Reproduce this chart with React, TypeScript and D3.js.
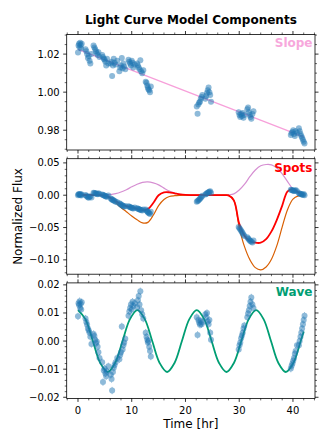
import React from 'react';
import * as d3 from 'd3';

// ---------- data ----------
const obsTime = [
  0.00, 0.10, 0.20, 0.30, 0.40, 0.50, 0.60, 0.70,
  1.40, 1.55, 1.70, 1.85, 2.00, 2.15, 2.30, 2.50,
  2.90, 3.05, 3.20, 3.35, 3.50, 3.65, 3.80, 4.00,
  4.50, 4.65, 4.80, 4.95, 5.10, 5.25, 5.40, 5.65,
  6.10, 6.25, 6.35, 6.50, 6.65, 6.80, 7.00, 7.30,
  7.70, 7.85, 8.00, 8.15, 8.30, 8.45, 8.60, 8.80,
  9.40, 9.55, 9.70, 9.85, 10.00, 10.15, 10.30, 10.55,
  11.00, 11.15, 11.30, 11.45, 11.60, 11.75, 11.95, 12.15,
  12.60, 12.75, 12.90, 13.00, 13.10, 13.25, 13.40, 13.55,
  22.10, 22.25, 22.40, 22.55, 22.70, 22.85, 23.00, 23.15,
  23.70, 23.85, 24.00, 24.15, 24.30, 24.45, 24.60, 24.75,
  29.90, 30.05, 30.20, 30.35, 30.50, 30.65, 30.80, 30.95,
  31.50, 31.65, 31.80, 31.95, 32.10, 32.25, 32.45, 32.65,
  39.60, 39.75, 39.90, 40.05, 40.20, 40.35, 40.50, 40.75,
  41.10, 41.25, 41.40, 41.55, 41.70, 41.85, 42.00, 42.15,
];

const slopeObs = [
  1.0208, 1.0245, 1.0255, 1.0235, 1.0260, 1.0248, 1.0230, 1.0255,
  1.0225, 1.0215, 1.0200, 1.0180, 1.0190, 1.0165, 1.0150, 1.0200,
  1.0245, 1.0235, 1.0225, 1.0215, 1.0205, 1.0195, 1.0210, 1.0185,
  1.0195, 1.0185, 1.0175, 1.0170, 1.0160, 1.0140, 1.0175, 1.0150,
  1.0150, 1.0160, 1.0085, 1.0140, 1.0175, 1.0155, 1.0145, 1.0165,
  1.0110, 1.0130, 1.0140, 1.0180, 1.0125, 1.0150, 1.0135, 1.0120,
  1.0170, 1.0160, 1.0150, 1.0140, 1.0165, 1.0155, 1.0130, 1.0145,
  1.0150, 1.0140, 1.0130, 1.0120, 1.0168, 1.0110, 1.0100, 1.0115,
  1.0055, 1.0050, 1.0035, 1.0025, 1.0015, 1.0010, 1.0000, 1.0030,
  0.9925, 0.9887, 0.9935, 0.9945, 0.9950, 0.9965, 0.9975, 0.9985,
  0.9965, 0.9980, 0.9995, 1.0010, 1.0025, 1.0000, 0.9985, 0.9950,
  0.9895, 0.9880, 0.9870, 0.9885, 0.9875, 0.9890, 0.9865, 0.9880,
  0.9910, 0.9920, 0.9895, 0.9880, 0.9870, 0.9860, 0.9885, 0.9900,
  0.9775, 0.9785, 0.9790, 0.9800, 0.9780, 0.9770, 0.9795, 0.9785,
  0.9810, 0.9795, 0.9780, 0.9770, 0.9760, 0.9750, 0.9740, 0.9730,
];

const spotsObs = [
  0.0000, 0.0015, 0.0010, 0.0020, 0.0005, 0.0015, -0.0005, 0.0010,
  0.0005, -0.0010, -0.0020, -0.0030, -0.0040, -0.0025, -0.0015, -0.0035,
  0.0040, 0.0035, 0.0030, 0.0025, 0.0020, 0.0015, 0.0030, 0.0020,
  0.0010, 0.0005, 0.0000, -0.0010, -0.0015, -0.0020, -0.0025, -0.0005,
  -0.0050, -0.0060, -0.0070, -0.0075, -0.0080, -0.0090, -0.0100, -0.0110,
  -0.0125, -0.0135, -0.0145, -0.0155, -0.0160, -0.0170, -0.0180, -0.0165,
  -0.0170, -0.0180, -0.0185, -0.0190, -0.0195, -0.0200, -0.0205, -0.0190,
  -0.0200, -0.0210, -0.0215, -0.0220, -0.0225, -0.0230, -0.0235, -0.0220,
  -0.0220, -0.0235, -0.0250, -0.0260, -0.0270, -0.0280, -0.0290, -0.0255,
  -0.0100, -0.0090, -0.0080, -0.0065, -0.0055, -0.0040, -0.0025, -0.0010,
  0.0010, 0.0020, 0.0030, 0.0040, 0.0045, 0.0055, 0.0060, 0.0035,
  -0.0490, -0.0510, -0.0530, -0.0550, -0.0570, -0.0590, -0.0610, -0.0630,
  -0.0650, -0.0670, -0.0680, -0.0700, -0.0710, -0.0720, -0.0730, -0.0700,
  0.0085, 0.0080, 0.0075, 0.0070, 0.0065, 0.0070, 0.0080, 0.0060,
  0.0030, 0.0025, 0.0020, 0.0015, 0.0010, 0.0005, 0.0020, 0.0000,
];

const waveObs = [
  0.0088, 0.0135, 0.0128, 0.0142, 0.0118, 0.0132, 0.0112, 0.0138,
  0.0080, 0.0068, 0.0058, 0.0045, 0.0038, 0.0030, 0.0015, -0.0010,
  0.0025, 0.0018, 0.0005, -0.0008, -0.0002, -0.0020, -0.0040, -0.0060,
  -0.0075, -0.0146, -0.0105, -0.0098, -0.0115, -0.0125, -0.0108, -0.0090,
  -0.0120, -0.0135, -0.0176, -0.0110, -0.0095, -0.0085, -0.0075, -0.0060,
  -0.0065, -0.0050, -0.0040, 0.0052, -0.0030, -0.0015, -0.0005, 0.0008,
  0.0090, 0.0105, 0.0118, 0.0130, 0.0112, 0.0140, 0.0125, 0.0135,
  0.0120, 0.0145, 0.0160, 0.0130, 0.0177, 0.0110, 0.0095, 0.0080,
  0.0030, 0.0015, 0.0005, -0.0005, 0.0000, -0.0020, -0.0035, -0.0055,
  0.0085, 0.0022, 0.0075, 0.0065, 0.0058, 0.0072, 0.0060, 0.0068,
  0.0095, 0.0085, 0.0100, 0.0070, 0.0060, 0.0075, 0.0030, 0.0005,
  -0.0030, -0.0015, -0.0005, 0.0010, 0.0020, 0.0030, 0.0045, 0.0055,
  0.0085, 0.0098, 0.0110, 0.0125, 0.0140, 0.0155, 0.0130, 0.0118,
  -0.0098, -0.0088, -0.0080, -0.0070, -0.0060, -0.0045, -0.0035, -0.0015,
  -0.0015, 0.0000, 0.0015, 0.0030, 0.0045, 0.0060, 0.0075, 0.0090,
];
const obsErr = 0.0013;

// slope model
const slopeT = [0, 42];
const slopeV = [1.0225, 0.9765];

// spot models (sampled every hour)
const spotT = d3.range(0, 43);
const spotPink = [
  0, 0, 0, 0, 0, 0.0003, 0.001, 0.0025, 0.005, 0.0085,
  0.013, 0.017, 0.0198, 0.0205, 0.019, 0.016, 0.011, 0.0065, 0.0035, 0.0015,
  0.0005, 0.0001, 0, 0, 0, 0, 0, 0, 0.0005, 0.002,
  0.008, 0.017, 0.029, 0.039, 0.0455, 0.0475, 0.047, 0.042, 0.033, 0.021,
  0.0095, 0.003, 0.001,
];
const spotOrange = [
  0, 0, 0, 0, 0, -0.0005, -0.004, -0.0115, -0.019, -0.0255,
  -0.032, -0.038, -0.0428, -0.042, -0.031, -0.016, -0.0065, -0.002, -0.0007, -0.0002,
  0, 0, 0, 0, 0, 0, 0, 0, -0.0003, -0.008,
  -0.050, -0.080, -0.100, -0.112, -0.1155, -0.111, -0.099, -0.078, -0.049, -0.022,
  -0.006, -0.001, 0,
];
const spotTotal = [
  0, 0, 0, 0, 0, -0.0005, -0.004, -0.009, -0.014, -0.017,
  -0.019, -0.021, -0.023, -0.0215, -0.012, 0.0, 0.0045, 0.0045, 0.0028, 0.0012,
  0.0004, 0.0001, 0, 0, 0, 0, 0, 0, -0.0002, -0.008,
  -0.044, -0.063, -0.071, -0.0735, -0.0735, -0.068, -0.056, -0.038, -0.016, 0.006,
  0.0095, 0.0045, 0.0005,
];

// wave model
const waveT = [
  0, 1.38, 2.76, 4.14, 5.53, 6.91, 8.29, 9.67, 11.05, 12.43, 13.81, 15.19, 16.58,
  17.96, 19.34, 20.72, 22.10, 23.48, 24.86, 26.24, 27.63, 29.01, 30.39, 31.77,
  33.15, 34.53, 35.91, 37.29, 38.68, 40.06, 41.44, 42,
];
const waveV = [
  0.011, 0.0078, 0, -0.0078, -0.011, -0.0078, 0, 0.0078, 0.011, 0.0078, 0, -0.0078, -0.011,
  -0.0078, 0, 0.0078, 0.011, 0.0078, 0, -0.0078, -0.011, -0.0078, 0, 0.0078,
  0.011, 0.0078, 0, -0.0078, -0.011, -0.0078, 0, 0.0034,
];

// axes
const xTicks = [0, 10, 20, 30, 40];
const slopeTicks = [0.98, 1.0, 1.02];
const spotTicks = [-0.1, -0.05, 0.0, 0.05];
const waveTicks = [-0.02, -0.01, 0.0, 0.01, 0.02];

// ---------- layout ----------
const W = 332;
const H = 443;
const ML = 66.7;
const MR = 315;
const PANEL_TOPS = [34.5, 158.7, 282.9];
const PANEL_H = 115.5;
const X_DOMAIN: [number, number] = [-2.1, 44.1];
const BLUE = '#1f77b4';
const FONT = 'DejaVu Sans';

type LineSpec = { t: number[]; v: number[]; color: string; w: number };
type PanelSpec = {
  domain: [number, number];
  majors: number[];
  minorStep: number;
  label: string;
  labelColor: string;
  obs: number[];
  lines: LineSpec[];
};

const panels: PanelSpec[] = [
  {
    domain: [0.9696, 1.0303],
    majors: slopeTicks,
    minorStep: 0.005,
    label: 'Slope',
    labelColor: '#f7a8dc',
    obs: slopeObs,
    lines: [{ t: slopeT, v: slopeV, color: '#f7a0da', w: 1.3 }],
  },
  {
    domain: [-0.1222, 0.0565],
    majors: spotTicks,
    minorStep: 0.01,
    label: 'Spots',
    labelColor: '#ff0000',
    obs: spotsObs,
    lines: [
      { t: spotT, v: spotPink, color: '#d68fd2', w: 1.2 },
      { t: spotT, v: spotOrange, color: '#d95f02', w: 1.2 },
      { t: spotT, v: spotTotal, color: '#ff0000', w: 1.8 },
    ],
  },
  {
    domain: [-0.0204, 0.0207],
    majors: waveTicks,
    minorStep: 0.002,
    label: 'Wave',
    labelColor: '#009e73',
    obs: waveObs,
    lines: [{ t: waveT, v: waveV, color: '#009e73', w: 1.8 }],
  },
];

function minorTicks(domain: [number, number], step: number, majors: number[]) {
  const out: number[] = [];
  const k0 = Math.ceil(domain[0] / step - 1e-9);
  const k1 = Math.floor(domain[1] / step + 1e-9);
  for (let k = k0; k <= k1; k++) {
    const v = k * step;
    if (!majors.some((m) => Math.abs(m - v) < step / 10)) out.push(v);
  }
  return out;
}

export default function App() {
  const x = d3.scaleLinear().domain(X_DOMAIN).range([ML, MR]);
  const xMinor = minorTicks(X_DOMAIN, 2, xTicks);
  const fmt = d3.format('.2f');

  return (
    <svg
      width={W}
      height={H}
      style={{ position: 'absolute', left: 0, top: 0, background: '#fff' }}
      fontFamily={FONT}
    >
      <rect x={0} y={0} width={W} height={H} fill="#fff" />
      <text x={(ML + MR) / 2} y={23.5} textAnchor="middle" fontSize={12} fontWeight="bold">
        Light Curve Model Components
      </text>

      {panels.map((p, i) => {
        const top = PANEL_TOPS[i];
        const bottom = top + PANEL_H;
        const y = d3.scaleLinear().domain(p.domain).range([bottom, top]);
        const yMinor = minorTicks(p.domain, p.minorStep, p.majors);
        const line = d3
          .line<[number, number]>()
          .x((d) => x(d[0]))
          .y((d) => y(d[1]))
          .curve(d3.curveCatmullRom.alpha(0.5));
        const clipId = `clip${i}`;
        return (
          <g key={i}>
            <defs>
              <clipPath id={clipId}>
                <rect x={ML} y={top} width={MR - ML} height={PANEL_H} />
              </clipPath>
            </defs>
            <g clipPath={`url(#${clipId})`}>
              {p.lines.map((l, j) => (
                <path
                  key={j}
                  d={line(l.t.map((t, k) => [t, l.v[k]] as [number, number])) || ''}
                  fill="none"
                  stroke={l.color}
                  strokeWidth={l.w}
                />
              ))}
              {obsTime.map((t, k) => (
                <g key={k} opacity={0.5}>
                  <line
                    x1={x(t)}
                    x2={x(t)}
                    y1={y(p.obs[k] - obsErr)}
                    y2={y(p.obs[k] + obsErr)}
                    stroke={BLUE}
                    strokeWidth={1}
                  />
                  <circle cx={x(t)} cy={y(p.obs[k])} r={3} fill={BLUE} />
                </g>
              ))}
            </g>
            <text
              x={MR - 2.5}
              y={top + 12.8}
              textAnchor="end"
              fontSize={12}
              fontWeight="bold"
              fill={p.labelColor}
            >
              {p.label}
            </text>
            {/* frame */}
            <rect x={ML} y={top} width={MR - ML} height={PANEL_H} fill="none" stroke="#000" strokeWidth={0.8} />
            {/* y ticks */}
            {p.majors.map((v) => (
              <g key={'ym' + v}>
                <line x1={ML - 3.5} x2={ML} y1={y(v)} y2={y(v)} stroke="#000" strokeWidth={0.8} />
                <line x1={MR} x2={MR + 3.5} y1={y(v)} y2={y(v)} stroke="#000" strokeWidth={0.8} />
                <text x={ML - 7} y={y(v)} dy="0.35em" textAnchor="end" fontSize={10}>
                  {fmt(v)}
                </text>
              </g>
            ))}
            {yMinor.map((v) => (
              <g key={'yn' + v}>
                <line x1={ML - 2} x2={ML} y1={y(v)} y2={y(v)} stroke="#000" strokeWidth={0.6} />
                <line x1={MR} x2={MR + 2} y1={y(v)} y2={y(v)} stroke="#000" strokeWidth={0.6} />
              </g>
            ))}
            {/* x ticks */}
            {xTicks.map((t) => (
              <g key={'xm' + t}>
                <line x1={x(t)} x2={x(t)} y1={top - 3.5} y2={top} stroke="#000" strokeWidth={0.8} />
                <line x1={x(t)} x2={x(t)} y1={bottom} y2={bottom + 3.5} stroke="#000" strokeWidth={0.8} />
                {i === 2 && (
                  <text x={x(t)} y={bottom + 15.2} textAnchor="middle" fontSize={10}>
                    {String(t)}
                  </text>
                )}
              </g>
            ))}
            {xMinor.map((t) => (
              <g key={'xn' + t}>
                <line x1={x(t)} x2={x(t)} y1={top - 2} y2={top} stroke="#000" strokeWidth={0.6} />
                <line x1={x(t)} x2={x(t)} y1={bottom} y2={bottom + 2} stroke="#000" strokeWidth={0.6} />
              </g>
            ))}
          </g>
        );
      })}

      <text x={(ML + MR) / 2} y={428} textAnchor="middle" fontSize={12}>
        Time [hr]
      </text>
      <text
        transform={`translate(22,${(PANEL_TOPS[0] + PANEL_TOPS[2] + PANEL_H) / 2}) rotate(-90)`}
        textAnchor="middle"
        fontSize={12}
      >
        Normalized Flux
      </text>
    </svg>
  );
}
